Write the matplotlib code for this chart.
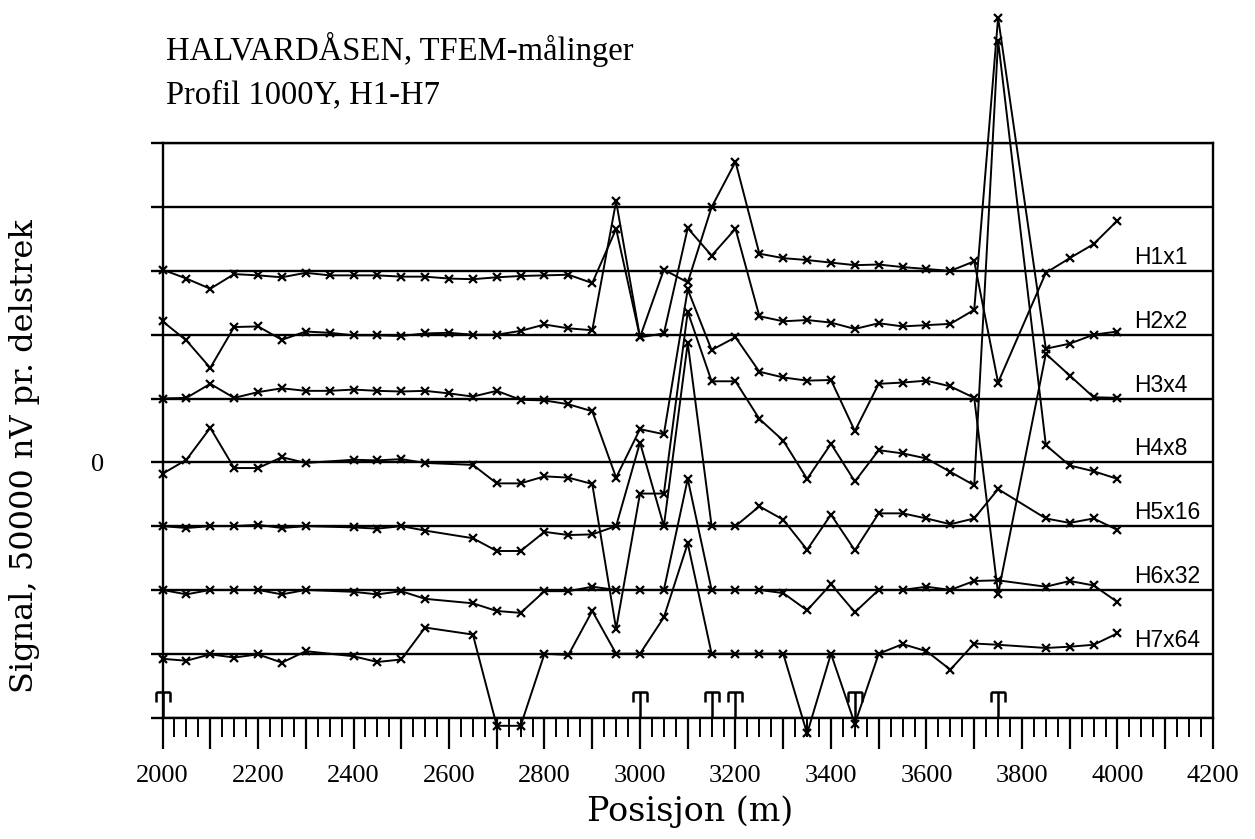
import numpy as np
import matplotlib
matplotlib.use('Agg')
import matplotlib.pyplot as plt
from matplotlib.path import Path
from matplotlib.ticker import MultipleLocator, FixedLocator, FuncFormatter

# stations along the profile (m), one every 50 m
pos = np.arange(2000, 4001, 50)

# signal per channel in divisions (1 division = 50000 nV), None = no reading
h1 = [0.02, -0.12, -0.28, -0.05, -0.07, -0.10, -0.03, -0.07, -0.07, -0.07,
      -0.09, -0.09, -0.12, -0.13, -0.10, -0.08, -0.07, -0.06, -0.19, 0.66,
      -1.04, 0.02, -0.18, 1.00, 1.71, 0.27, 0.20, 0.17, 0.13, 0.09,
      0.10, 0.06, 0.03, 0.00, 0.15, -1.75, None, -0.03, 0.20, 0.42, 0.79]
h2 = [0.21, -0.09, -0.52, 0.12, 0.13, -0.08, 0.05, 0.03, -0.01, -0.01,
      -0.02, 0.02, 0.03, 0.00, 0.00, 0.06, 0.16, 0.10, 0.07, 2.09,
      -0.04, 0.02, 1.67, 1.24, 1.66, 0.29, 0.21, 0.23, 0.19, 0.09,
      0.18, 0.13, 0.15, 0.17, 0.39, 4.97, None, -0.22, -0.14, 0.00, 0.05]
h3 = [0.00, 0.01, 0.23, 0.01, 0.10, 0.16, 0.12, 0.12, 0.14, 0.12,
      0.11, 0.12, 0.08, 0.03, 0.12, -0.02, -0.03, -0.09, -0.20, -1.24,
      -0.48, -0.56, 1.71, 0.76, 0.96, 0.42, 0.33, 0.28, 0.29, -0.51,
      0.23, 0.25, 0.28, 0.19, 0.01, -3.06, None, 0.70, 0.36, 0.02, 0.01]
h4 = [-0.18, 0.04, 0.54, -0.09, -0.09, 0.08, -0.01, None, 0.04, 0.03,
      0.05, -0.01, None, -0.04, -0.33, -0.33, -0.22, -0.24, -0.34, -2.61,
      -0.49, -0.49, 2.36, 1.27, 1.27, 0.68, 0.34, -0.26, 0.29, -0.30,
      0.19, 0.14, 0.06, -0.15, -0.36, 6.61, None, 0.27, -0.05, -0.14, -0.26]
h5 = [0.00, -0.03, 0.00, 0.00, 0.02, -0.03, 0.00, None, -0.02, -0.04,
      0.00, -0.07, None, -0.19, -0.39, -0.39, -0.09, -0.14, -0.13, 0.00,
      1.31, 0.00, 2.87, 0.00, 0.00, 0.31, 0.10, -0.37, 0.18, -0.38,
      0.20, 0.20, 0.12, 0.03, 0.12, 0.58, None, 0.12, 0.05, 0.12, -0.06]
h6 = [0.00, -0.07, 0.00, 0.00, 0.00, -0.07, 0.00, None, -0.03, -0.07,
      -0.02, -0.14, None, -0.21, -0.33, -0.36, -0.02, -0.02, 0.05, 0.00,
      0.00, 0.00, 1.74, 0.00, 0.00, 0.00, -0.05, -0.32, 0.09, -0.35,
      0.00, 0.00, 0.05, 0.00, 0.14, 0.15, None, 0.05, 0.14, 0.07, -0.19]
h7 = [-0.08, -0.11, -0.01, -0.06, -0.01, -0.14, 0.04, None, -0.04, -0.13,
      -0.09, 0.41, None, 0.30, -1.13, -1.13, 0.00, -0.02, 0.67, 0.00,
      0.00, 0.57, 1.73, 0.00, 0.00, 0.00, 0.00, -1.25, 0.00, -1.10,
      0.00, 0.15, 0.04, -0.25, 0.16, 0.14, None, 0.09, 0.11, 0.14, 0.32]

names = ['H1x1', 'H2x2', 'H3x4', 'H4x8', 'H5x16', 'H6x32', 'H7x64']
baselines = [3, 2, 1, 0, -1, -2, -3]

# positions of the "T" marks on the base line
t_pos = [2000, 3000, 3150, 3200, 3450, 3750]

fig = plt.figure(figsize=(12.55, 8.39), dpi=100)
ax = fig.add_axes([0.1295, 0.1448, 0.8370, 0.6844])

ax.set_xlim(2000, 4200)
ax.set_ylim(-4, 5)

for sp in ax.spines.values():
    sp.set_linewidth(1.7)

# x axis: long ticks every 100 m, short every 25 m, labels every 200 m
ax.xaxis.set_major_locator(MultipleLocator(100))
ax.xaxis.set_minor_locator(MultipleLocator(25))
ax.xaxis.set_major_formatter(FuncFormatter(lambda v, p: '%d' % v if round(v) % 200 == 0 else ''))
ax.tick_params(axis='x', which='major', direction='out', length=22, width=1.6, pad=12)
ax.tick_params(axis='x', which='minor', direction='out', length=13.5, width=1.4)

# y axis: one line per division, only 0 labelled
ax.yaxis.set_major_locator(FixedLocator(range(-4, 6)))
ax.yaxis.set_major_formatter(FuncFormatter(lambda v, p: '0' if v == 0 else ''))
ax.tick_params(axis='y', direction='out', length=9, width=1.7, pad=33)
ax.yaxis.grid(True, color='black', lw=1.7)

for lab in ax.get_xticklabels() + ax.get_yticklabels():
    lab.set_family('Liberation Serif')
    lab.set_fontsize(19)

for name, vals, base in zip(names, [h1, h2, h3, h4, h5, h6, h7], baselines):
    v = np.array([np.nan if a is None else a for a in vals])
    m = ~np.isnan(v)
    ax.plot(pos[m], v[m] + base, color='black', lw=1.4, marker='x', ms=6, mew=1.6,
            clip_on=False, zorder=3)
    ax.text(4035, base + 0.03, name, family='Liberation Sans', fontsize=16.5, va='bottom')

# T marks
tee = Path([(0, 0), (0, 1), (-0.26, 1), (0.26, 1), (-0.26, 1), (-0.26, 0.62), (0.26, 1), (0.26, 0.62)],
           [Path.MOVETO, Path.LINETO, Path.MOVETO, Path.LINETO,
            Path.MOVETO, Path.LINETO, Path.MOVETO, Path.LINETO])
ax.plot(t_pos, [-4] * len(t_pos), ls='none', marker=tee, ms=37, mew=1.8,
        mec='black', mfc='none', clip_on=False, zorder=4)

fig.text(166 / 1255, 1 - 60 / 839, 'HALVARDÅSEN, TFEM-målinger',
         family='Liberation Serif', fontsize=23.5, va='baseline')
fig.text(166 / 1255, 1 - 103 / 839, 'Profil 1000Y, H1-H7',
         family='Liberation Serif', fontsize=23.5, va='baseline')
fig.text(25 / 1255, 1 - 456 / 839, 'Signal, 50000 nV pr. delstrek', rotation=90,
         family='DejaVu Serif', fontsize=23, ha='center', va='center')
fig.text(690 / 1255, 1 - 812 / 839, 'Posisjon (m)',
         family='DejaVu Serif', fontsize=24, ha='center', va='center')

fig.savefig('out.png', dpi=100)
